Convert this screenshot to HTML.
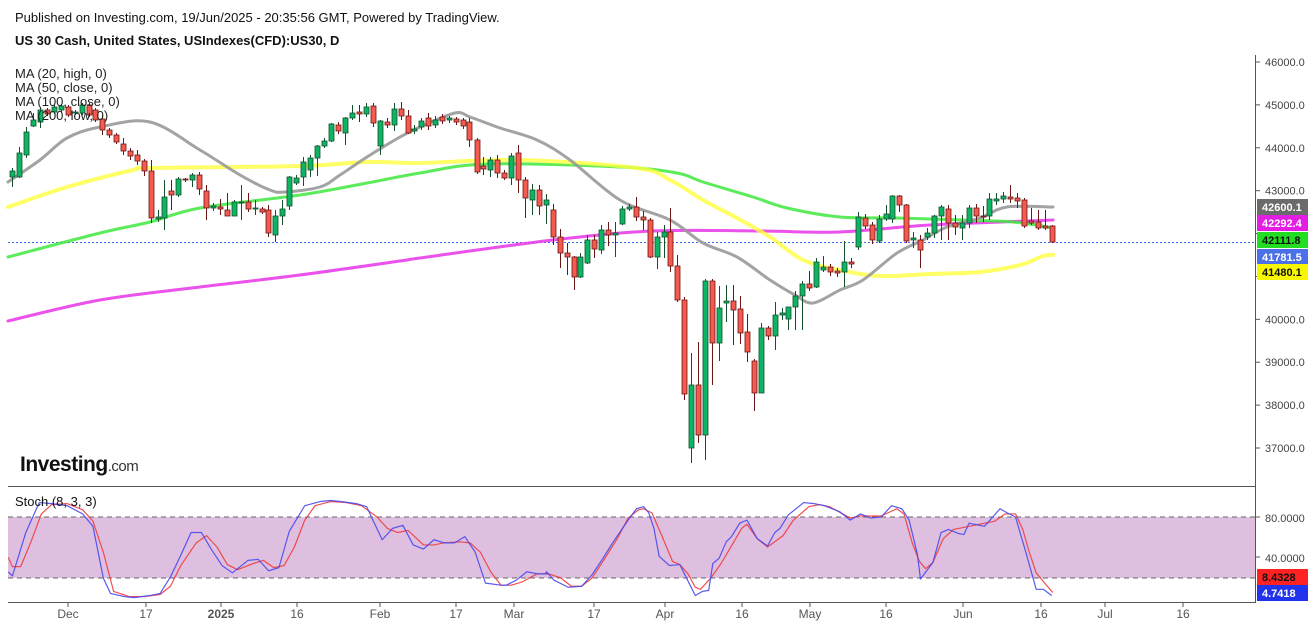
<!DOCTYPE html>
<html><head><meta charset="utf-8"><style>
html,body{margin:0;padding:0;background:#fff;width:1316px;height:626px;overflow:hidden;font-family:"Liberation Sans",sans-serif}
svg{display:block}
</style></head><body>
<svg id="c" width="1316" height="626" xmlns="http://www.w3.org/2000/svg" font-family="Liberation Sans, sans-serif">
<rect width="1316" height="626" fill="#fff"/>
<text x="15" y="22" font-size="13" fill="#111">Published on Investing.com, 19/Jun/2025 - 20:35:56 GMT, Powered by TradingView.</text>
<text x="15" y="45" font-size="13" font-weight="bold" fill="#111">US 30 Cash, United States, USIndexes(CFD):US30, D</text>
<rect x="8" y="517" width="1247" height="61" fill="#dfbfdf"/>
<line x1="8" y1="517" x2="1255" y2="517" stroke="#666" stroke-dasharray="5,4"/>
<line x1="8" y1="578" x2="1255" y2="578" stroke="#666" stroke-dasharray="5,4"/>
<line x1="8" y1="486.5" x2="1255" y2="486.5" stroke="#555"/>
<line x1="8" y1="602.5" x2="1255" y2="602.5" stroke="#555"/>
<line x1="1255.5" y1="55" x2="1255.5" y2="603" stroke="#555"/>
<g id="g"></g>
<text x="15" y="506" font-size="13" fill="#111">Stoch (8, 3, 3)</text>
<g font-size="13" fill="#222">
<text x="15" y="78">MA (20, high, 0)</text>
<text x="15" y="92">MA (50, close, 0)</text>
<text x="15" y="106">MA (100, close, 0)</text>
<text x="15" y="120">MA (200, low, 0)</text>
</g>
<text x="20" y="471" font-size="21" font-weight="bold" fill="#111" letter-spacing="-0.5">Investing<tspan font-weight="normal" font-size="15" fill="#333">.com</tspan></text>
</svg>
<script>
var g=document.getElementById('g'),NS='http://www.w3.org/2000/svg';
function el(t,a,p){var e=document.createElementNS(NS,t);for(var k in a)e.setAttribute(k,a[k]);(p||g).appendChild(e);return e;}
function txt(x,y,s,a){var e=el('text',Object.assign({x:x,y:y},a||{}));e.textContent=s;return e;}
function py(p){return 62+(46000-p)*0.04289;}
[46000,45000,44000,43000,40000,39000,38000,37000].forEach(function(p){var y=py(p);el('line',{x1:1255,y1:y,x2:1260,y2:y,stroke:'#555'});txt(1265,y+4,p.toFixed(1),{'font-size':11,fill:'#444'});});
[42000,41000].forEach(function(p){var y=py(p);el('line',{x1:1255,y1:y,x2:1260,y2:y,stroke:'#555'});});
el('line',{x1:1255,y1:517,x2:1260,y2:517,stroke:'#555'});txt(1265,522,'80.0000',{'font-size':11,fill:'#444'});
el('line',{x1:1255,y1:557,x2:1260,y2:557,stroke:'#555'});txt(1265,562,'40.0000',{'font-size':11,fill:'#444'});
[['Dec',68],['17',146],['2025',221,1],['16',297],['Feb',380],['17',456],['Mar',514],['17',594],['Apr',665],['16',742],['May',810],['16',886],['Jun',963],['16',1041],['Jul',1105],['16',1183]].forEach(function(t){
el('line',{x1:t[1],y1:602,x2:t[1],y2:607,stroke:'#555'});txt(t[1],618,t[0],{'font-size':12,fill:'#555','text-anchor':'middle','font-weight':t[2]?'bold':'normal'});});
el('line',{x1:8,y1:242.5,x2:1255,y2:242.5,stroke:'#3b6ef0','stroke-dasharray':'2,2'});
function pl(pts,col,w,op){el('polyline',{points:pts.map(function(p){return p.join(',')}).join(' '),fill:'none',stroke:col,'stroke-width':w,'stroke-opacity':op,'stroke-linejoin':'round'});}
function sm(pts,col,w,op){var d='M'+pts[0][0]+','+pts[0][1];for(var i=0;i<pts.length-1;i++){var p0=pts[i-1]||pts[i],p1=pts[i],p2=pts[i+1],p3=pts[i+2]||p2;
d+=' C'+(p1[0]+(p2[0]-p0[0])/6)+','+(p1[1]+(p2[1]-p0[1])/6)+' '+(p2[0]-(p3[0]-p1[0])/6)+','+(p2[1]-(p3[1]-p1[1])/6)+' '+p2[0]+','+p2[1];}
el('path',{d:d,fill:'none',stroke:col,'stroke-width':w,'stroke-opacity':op,'stroke-linecap':'round'});}
sm([[8,321],[100,300],[200,287],[300,275],[400,261],[420,258],[553,240],[653,231],[760,231],[840,232],[930,225],[1053,220]],'#e832e8',3,0.85);
sm([[8,257],[100,233],[150,222],[200,208],[300,195],[367,183],[420,173],[487,164],[620,167],[677,173],[703,182],[753,197],[787,208],[840,217],[897,218],[963,220],[1013,222],[1053,228]],'#3ee83e',3,0.85);
sm([[8,207],[67,187],[133,170],[150,168],[300,166],[367,162],[420,163],[520,160],[637,168],[670,180],[703,200],[737,218],[770,237],[803,260],[840,270],[880,276],[930,274],[980,272],[1020,265],[1043,256],[1053,255]],'#ffff40',4,0.8);
sm([[8,182],[40,160],[67,138],[100,127],[150,122],[200,150],[240,175],[270,190],[285,192],[320,187],[340,175],[367,157],[400,137],[420,127],[455,113],[470,117],[500,128],[537,140],[570,160],[620,200],[670,220],[703,243],[737,257],[770,280],[795,295],[813,303],[840,290],[863,280],[897,253],[923,240],[947,227],[980,218],[1007,207],[1053,207]],'#999',3,0.9);
var C=[[12,'G',171,177,168,187],[19,'G',153,177,147,178],[26,'G',132,155,127,158],[33,'G',120,126,113,127],[40,'G',110,122,107,128],[47,'R',110,114],[54,'G',107,112],[61,'G',106,110],[68,'R',107,115],[75,'G',112,113],[82,'G',105,113],[89,'R',105,115],[95,'R',110,120],[102,'R',119,130,115,135],[109,'R',130,135,128,138],[116,'R',135,142],[123,'R',144,151,138,155],[130,'R',151,156,148,160],[137,'R',155,161,150,165],[144,'R',161,171,159,176],[151,'R',171,218,160,223],[158,'G',217,219,210,222],[164,'G',197,218,180,230],[171,'R',191,195,180,210],[178,'G',179,195,177,197],[185,'R',179,180,178,182],[192,'G',175,180,173,187],[199,'R',175,189,172,195],[206,'R',191,208,185,220],[213,'G',206,208,203,211],[220,'R',207,209,199,215],[227,'R',210,216,193,216],[234,'G',202,216,200,216],[241,'G',202,203,185,220],[248,'R',202,209,193,212],[255,'G',208,209,200,215],[262,'R',209,212],[268,'R',210,233,205,237],[275,'G',216,235,210,242],[282,'G',209,216,200,225],[289,'G',177,206,176,210],[296,'G',178,183,175,185],[303,'G',162,177,157,186],[310,'G',158,170,155,177],[317,'G',146,158,145,176],[324,'G',141,146,138,148],[331,'G',124,141,123,142],[338,'R',125,131,122,134],[345,'G',118,133,117,145],[352,'G',113,118,105,120],[359,'R',112,114,105,122],[366,'G',107,114,103,117],[373,'R',106,123,103,127],[380,'G',121,146,120,155],[387,'R',122,125,118,128],[394,'G',109,125,103,131],[401,'R',109,116,102,120],[408,'R',116,133,110,134],[414,'G',129,131,125,134],[421,'G',121,127,118,130],[428,'R',118,126,113,130],[435,'G',120,125,116,128],[442,'R',117,121,114,124],[449,'G',118,120,116,123],[456,'R',119,122,117,125],[463,'R',120,126,118,129],[469,'R',122,140,118,147],[477,'R',140,172,138,174],[483,'R',166,169,157,175],[490,'G',160,170,157,177],[497,'R',160,173,155,178],[504,'R',173,178,170,180],[511,'G',156,178,153,185],[518,'R',153,180,145,193],[525,'R',180,198,177,218],[532,'G',190,200,184,215],[539,'R',190,206,185,215],[546,'G',200,205,194,224],[553,'R',210,237,204,245],[560,'R',237,253,229,268],[567,'R',253,257,243,275],[574,'R',257,277,256,290],[580,'G',257,277,253,278],[587,'G',240,263,235,264],[594,'R',240,249,235,258],[601,'G',230,250,225,254],[608,'R',230,235,222,246],[615,'G',233,235,222,257],[622,'G',209,224,206,225],[629,'G',207,209,204,211],[636,'R',207,217,197,221],[643,'R',217,220,211,230],[650,'R',220,257,218,258],[657,'G',237,257,232,269],[664,'G',232,237,225,258],[670,'R',232,266,208,272],[677,'R',266,300,255,302],[684,'R',300,394,297,400],[691,'G',385,448,353,463],[698,'R',385,435,342,443],[705,'G',281,435,279,460],[712,'R',281,343,279,385],[719,'G',308,343,286,361],[726,'G',301,303,285,322],[733,'R',301,310,285,345],[740,'R',309,333,296,344],[747,'R',332,352,314,362],[754,'R',361,393,359,411],[761,'G',328,393,323,393],[768,'R',328,336,326,340],[775,'G',315,336,302,350],[782,'G',313,315,308,320],[788,'G',307,319,307,330],[795,'G',296,307,291,330],[802,'G',284,296,281,330],[809,'R',284,288,271,291],[816,'G',262,287,258,288],[823,'G',267,270,256,272],[830,'R',267,272,264,276],[837,'R',271,273,268,277],[844,'G',262,272,241,287],[851,'R',262,264,258,268],[858,'G',217,247,212,250],[865,'R',218,226,214,229],[872,'R',225,240,222,244],[879,'G',219,241,215,243],[886,'G',214,219,205,221],[892,'G',196,219,195,223],[899,'R',196,205,195,212],[906,'R',205,241,204,243],[913,'G',238,240,232,248],[920,'R',240,250,235,268],[927,'G',233,237,228,240],[934,'G',216,233,215,238],[941,'G',207,216,205,240],[948,'R',209,223,205,240],[955,'R',223,227,215,235],[962,'G',223,228,215,240],[969,'G',208,223,205,228],[976,'R',208,216,204,223],[983,'R',216,217,206,222],[989,'G',199,216,193,220],[996,'G',199,201,193,205],[1003,'G',196,199,192,203],[1010,'R',197,199,185,203],[1017,'R',198,201,193,208],[1024,'R',200,226,198,228],[1031,'R',221,223,208,225],[1038,'R',222,228,210,230],[1045,'R',226,228,210,230],[1052,'R',226,242,225,243]];
C.forEach(function(c){var x=c[0],bt=c[2],bb=c[3],wt=c.length>4?c[4]:bt-2,wb=c.length>4?c[5]:bb+2;
var g2=c[1]=='G';var st=g2?'#15502c':'#6a1616',fi=g2?'#0db463':'#f45a4e';
el('line',{x1:x+0.5,y1:wt,x2:x+0.5,y2:wb,stroke:st,'stroke-width':1});
el('rect',{x:x-2,y:bt,width:5,height:Math.max(1,bb-bt),fill:fi,stroke:st,'stroke-width':0.8});});
function sx(pts,ox){return pts.map(function(p){return [ox+(p[0]-ox)*1.033,485+(p[1]-485)*1.033];});}
var b1=[[8,569],[12,573],[25,531],[38,502],[50,503],[65,505],[80,513],[90,525],[100,575],[107,590],[120,593],[130,594],[145,592],[155,590],[165,574],[175,553],[185,531],[195,531],[205,548],[215,563],[225,570],[240,558],[250,557],[260,568],[270,565],[280,530],[295,505],[310,501],[320,500],[330,501],[345,503],[355,506],[360,517],[370,538],[380,527],[390,524],[400,543],[410,547],[420,538],[430,541],[440,541],[450,535],[460,550],[470,580],[485,582],[490,582],[500,577],[510,569],[520,571],[530,571]];
var r1=[[8,555],[12,564],[20,564],[30,540],[40,513],[50,504],[65,503],[80,509],[90,520],[100,550],[110,588],[125,593],[140,593],[155,591],[165,583],[175,563],[190,541],[200,534],[210,545],[220,562],[230,567],[245,561],[255,558],[265,565],[275,563],[285,545],[295,519],[305,505],[320,501],[335,502],[350,505],[365,516],[375,527],[385,531],[395,529],[410,543],[420,543],[430,541],[445,540],[455,541],[465,550],[475,569],[485,582],[495,582],[505,579],[520,571],[530,571]];
var b2=[[546,569],[553,577],[567,584],[580,583],[590,572],[600,557],[610,541],[625,519],[633,508],[640,506],[645,512],[650,527],[655,554],[665,563],[675,562],[683,578],[690,592],[697,588],[703,587],[707,561],[713,556],[720,540],[725,535],[733,522],[740,519],[750,537],[760,544],[767,531],[772,527],[780,514],[795,502],[805,503],[815,505],[830,511],[840,519],[850,513],[860,517],[870,516],[880,505],[890,508],[897,519],[905,552],[908,576],[920,560],[928,531],[935,528],[945,532],[950,533],[955,522],[970,525],[985,508],[992,512],[1000,516],[1010,550],[1020,586],[1027,586],[1035,592]];
var r2=[[545,570],[560,575],[570,583],[580,583],[590,575],[600,560],[615,536],[625,517],[635,509],[640,508],[648,512],[658,535],[668,559],[675,562],[683,571],[690,584],[695,586],[705,575],[715,561],[725,544],[735,527],[740,523],[750,537],[760,545],[775,534],[785,519],[800,506],[810,504],[820,506],[840,517],[850,515],[870,515],[885,508],[892,513],[900,541],[907,559],[913,566],[920,560],[930,537],[940,528],[960,524],[980,520],[990,513],[1000,513],[1007,528],[1013,549],[1020,570],[1030,582],[1036,589]];
var B=sx(b1,0).concat(sx(b2,530)),R=sx(r1,0).concat(sx(r2,530));
pl(R,'#f03c3c',1.2,0.9);pl(B,'#4848f0',1.2,0.9);
function box(y,bg,fg,s){el('rect',{x:1257,y:y-8,width:51,height:16,fill:bg});txt(1262,y+4,s,{'font-size':11,fill:fg,'font-weight':'bold'});}
box(207,'#6b6b6b','#fff','42600.1');box(223,'#e31ee3','#fff','42292.4');box(240,'#22dd22','#111','42111.8');box(257,'#4c70e8','#fff','41781.5');box(272,'#f7f700','#111','41480.1');
box(577,'#f22','#111','8.4328');box(593,'#2233ee','#fff','4.7418');
</script>
</body></html>
